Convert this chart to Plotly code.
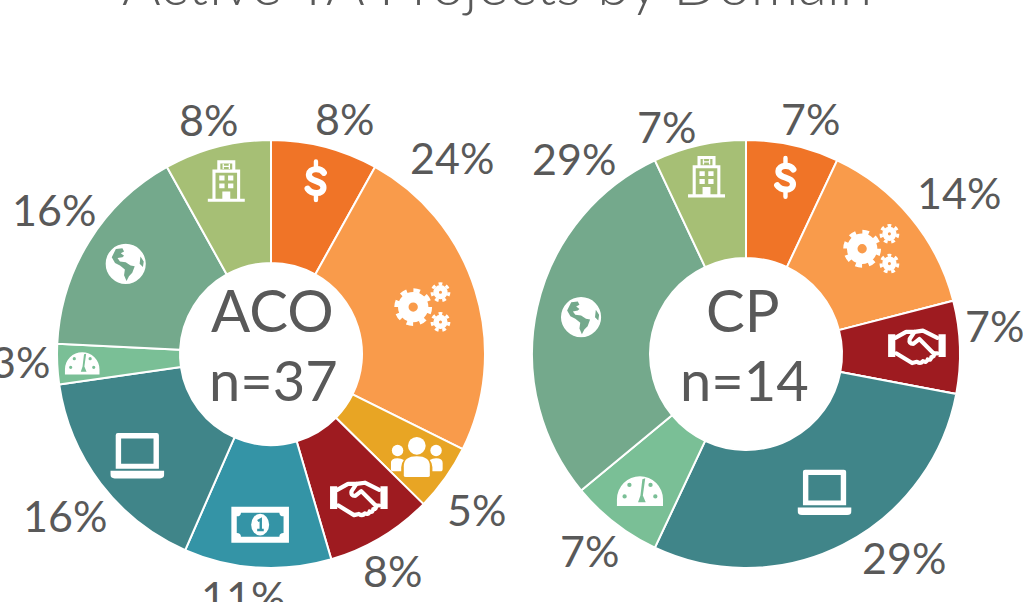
import base64, math
import plotly.graph_objects as go

TITLE = "Active TA Projects by Domain"
domains = ["Finance", "Operations", "Workforce", "Partnerships", "Funding", "Technology", "Performance", "Population", "Hospital"]
colors = ["#F07427", "#F99B4B", "#E8A524", "#9E1B20", "#3494A6", "#408589", "#7ABF96", "#74A98C", "#A6BF75"]
aco_pct = [8, 24, 5, 8, 11, 16, 3, 16, 8]
cp_pct = [7, 14, 0, 7, 0, 29, 7, 29, 7]

W, H = 1023, 602
R, CY = 214, 354
FONT = "Lato"
GREY = "#595959"


def circ(x, y, r):
    return f"M{x-r} {y}a{r} {r} 0 1 0 {2*r} 0a{r} {r} 0 1 0 {-2*r} 0Z"


def gear(x, y, r, sw, tr, tw, n):
    return (f'<circle cx="{x}" cy="{y}" r="{r}" fill="none" stroke="#fff" stroke-width="{sw}"/>'
            f'<circle cx="{x}" cy="{y}" r="{tr}" fill="none" stroke="#fff" stroke-width="{tw}" '
            f'pathLength="{2*n}" stroke-dasharray="1 1"/>')


ICONS = {
    "Finance": '<path d="M68 32C60 20 35 21 34 36C33 54 68 47 67 66C66 82 40 81 31 68" fill="none" stroke="#fff" stroke-width="14" stroke-linecap="round"/>'
               '<path d="M50 6V20M50 82V94" stroke="#fff" stroke-width="10" stroke-linecap="round"/>',
    "Operations": gear(36, 50, 16, 17, 27, 7, 8) + gear(80, 26, 7, 9, 13.5, 5, 7) + gear(80, 74, 7, 9, 13.5, 5, 7),
    "Workforce": '<g fill="#fff"><circle cx="50" cy="27" r="17"/><circle cx="13" cy="36" r="11"/><circle cx="87" cy="36" r="11"/>'
                 '<path d="M25 84V66Q25 47 50 47Q75 47 75 66V84Q75 87 71 87H29Q25 87 25 84Z"/>'
                 '<path d="M0 71V60Q0 51 13 51Q20 51 25 54Q20 60 20 68V76H5Q0 76 0 71Z"/>'
                 '<path d="M100 71V60Q100 51 87 51Q80 51 75 54Q80 60 80 68V76H95Q100 76 100 71Z"/></g>',
    "Partnerships": '<g fill="none" stroke="#fff" stroke-width="7" stroke-linejoin="round" stroke-linecap="round">'
                    '<path d="M14 32L32 22H46L38 34Q36 42 44 42L54 34L78 58Q80 64 74 64Q74 70 68 68Q66 74 60 71Q56 76 50 72L42 74L16 58"/>'
                    '<path d="M46 22L60 20L84 32M84 58L78 58"/></g>'
                    '<path d="M2 26H14V64H2ZM98 26H86V64H98Z" fill="#fff"/>',
    "Funding": '<path fill-rule="evenodd" fill="#fff" d="M2 20H98V80H2ZM18 30Q18 36 11 36V64Q18 64 18 70H82Q82 64 89 64V36Q82 36 82 30Z"/>'
               '<ellipse cx="50" cy="50" rx="15" ry="18" fill="#fff"/>'
               '<path d="M46 44L51 41V59M45 59H56" fill="none" stroke="#3494A6" stroke-width="4"/>',
    "Technology": '<path fill-rule="evenodd" fill="#fff" d="M14 8H86Q90 8 90 12V74H10V12Q10 8 14 8ZM20 18V65H80V18Z"/>'
                  '<path fill="#fff" d="M0 78H100V84Q100 92 92 92H8Q0 92 0 84Z"/>',
    "Performance": '<path fill-rule="evenodd" fill="#fff" d="' +
                   "M2 82V68A48 48 0 0 1 98 68V82Z" + circ(18, 62, 4.5) + circ(28, 38, 4.5) + circ(82, 62, 4.5) + circ(72, 38, 4.5) +
                   "M55 26L61 24L56 60L62 74H46L51 60Z" + '"/>',
    "Population": '<path fill-rule="evenodd" fill="#fff" d="' + circ(50, 50, 49) +
                  "M26 14L42 12L46 20L38 24L46 30L42 34L30 36L36 44L50 46L62 54L72 56L66 72L58 80L52 92L46 78L48 64L36 54L24 48L16 34Z"
                  "M86 32L94 44L92 58L84 50Z" + '"/>',
    "Hospital": '<g fill="none" stroke="#fff" stroke-width="7"><path d="M22 92V26H78V92M8 92H92M33 26V5H67V26"/></g>'
                '<path d="M43 9V21M57 9V21M43 15H57" stroke="#fff" stroke-width="3" fill="none"/>'
                '<path fill="#fff" d="M34 36H46V47H34ZM54 36H66V47H54ZM34 54H46V65H34ZM54 54H66V65H54ZM41 72H59V92H41Z"/>',
}


def icon_uri(name):
    svg = f'<svg xmlns="http://www.w3.org/2000/svg" viewBox="0 0 100 100">{ICONS[name]}</svg>'
    return "data:image/svg+xml;base64," + base64.b64encode(svg.encode()).decode()


def px(x):
    return x / W


def py(y):
    return 1 - y / H


donuts = [
    dict(cx=271, pct=aco_pct, name="ACO", n="n=37", text_dx=1, hole_r=91,
         icon_r=[179, 158, 179, 171, 171, 168, 189, 171, 178],
         icon_shift=[(0, 0)] * 9,
         icon_size=[44, 62, 52, 60, 60, 54, 36, 41, 44],
         nudge=[(11, 6), (-58, -122), (2, 10), (-7, 2), (-12, -7), (-7, 10), (-1, -4), (-5, -13), (0, 7)]),
    dict(cx=746, pct=cp_pct, name="CP", n="n=14", text_dx=-3, hole_r=96,
         icon_r=[181, 162, 0, 171, 0, 162, 173, 169, 181],
         icon_shift=[(0, 0), (0, -2), (0, 0), (0, 0), (0, 0), (5, -6), (0, 0), (0, 0), (0, 0)],
         icon_size=[44, 62, 0, 60, 0, 54, 48, 41, 44],
         nudge=[(10, 8), (20, -2), None, (-1, -21), None, (45, -19), (-3, -1), (72, -141), (-25, 16)]),
]

fig = go.Figure()
annotations, images = [], []
annotations.append(dict(text=TITLE, x=px(497), y=py(-17), xref="paper", yref="paper", showarrow=False,
                        xanchor="center", yanchor="middle", font=dict(family=FONT, size=59, color=GREY, weight=300)))

for d in donuts:
    cx = d["cx"]
    fig.add_trace(go.Pie(
        labels=domains, values=d["pct"], hole=d["hole_r"] / R, sort=False, direction="clockwise", rotation=0,
        marker=dict(colors=colors, line=dict(color="#fff", width=2)), textinfo="none", hoverinfo="label+percent",
        domain=dict(x=[px(cx - R), px(cx + R)], y=[py(CY + R), py(CY - R)]), showlegend=False,
    ))
    total = sum(d["pct"])
    cum = 0
    for i, v in enumerate(d["pct"]):
        if v == 0:
            continue
        mid = math.radians((cum + v / 2) / total * 360)
        cum += v
        sx, cy_ = math.sin(mid), math.cos(mid)
        dx, dy = d["nudge"][i]
        annotations.append(dict(text=f"{v}%", x=px(cx + 250 * sx + dx), y=py(CY - 250 * cy_ + dy),
                                xref="paper", yref="paper", showarrow=False, xanchor="center", yanchor="middle",
                                font=dict(family=FONT, size=43, color=GREY)))
        ir, s = d["icon_r"][i], d["icon_size"][i]
        ix, iy = d["icon_shift"][i]
        images.append(dict(source=icon_uri(domains[i]), xref="paper", yref="paper",
                           x=px(cx + ir * sx + ix), y=py(CY - ir * cy_ + iy), sizex=s / W, sizey=s / H,
                           xanchor="center", yanchor="middle", layer="above", sizing="contain"))
    annotations.append(dict(text=d["name"], x=px(cx + d["text_dx"]), y=py(309), xref="paper", yref="paper", showarrow=False,
                            xanchor="center", yanchor="middle", font=dict(family=FONT, size=58, color=GREY)))
    annotations.append(dict(text=d["n"], x=px(cx + d["text_dx"] + 1), y=py(379), xref="paper", yref="paper", showarrow=False,
                            xanchor="center", yanchor="middle", font=dict(family=FONT, size=56, color=GREY)))

fig.update_layout(width=W, height=H, margin=dict(l=0, r=0, t=0, b=0), paper_bgcolor="#fff",
                  annotations=annotations, images=images)
fig.write_html("out.html", config=dict(displayModeBar=False),
               post_script="document.body.style.margin='0';document.body.style.overflow='hidden';")
